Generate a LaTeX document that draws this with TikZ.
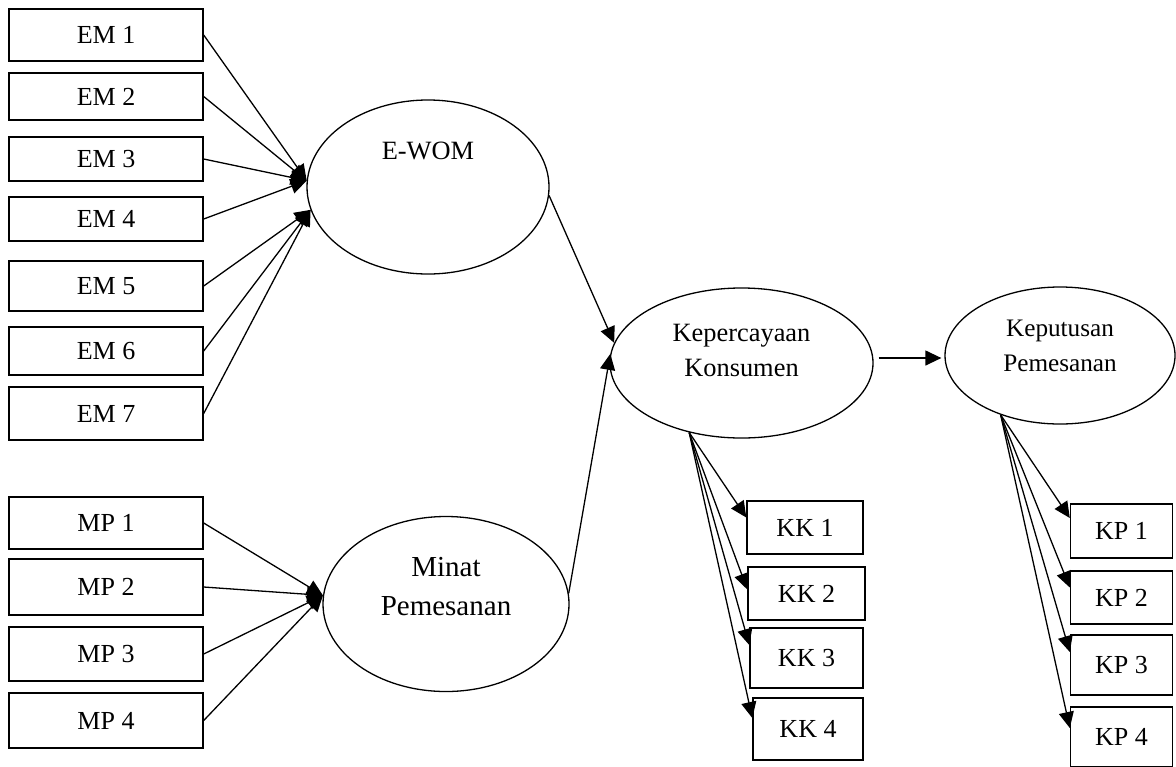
\documentclass[tikz,border=0pt]{standalone}
\usepackage{fontspec}
\setmainfont{Liberation Serif}
\usetikzlibrary{arrows.meta,shapes.geometric}

\tikzset{
  ind/.style={draw,rectangle,line width=.7pt,inner sep=0pt,font=\fontsize{13}{15}\selectfont},
  lat/.style={draw,ellipse,line width=.65pt,inner sep=0pt},
  lattxt/.style={align=center,inner sep=0pt,font=\fontsize{13.2}{17.5}\selectfont},
  pth/.style={line width=.65pt,-{Triangle[length=8pt,width=7.5pt]}}
}

\begin{document}
\begin{tikzpicture}[x=.5pt,y=-.5pt]
\useasboundingbox (0,0) rectangle (1176,766);
% latent variables
\node[lat,minimum width=121pt,minimum height=87pt] (ewom) at (428,187) {};
\node[lat,minimum width=123pt,minimum height=87.5pt] (mpn) at (446,604) {};
\node[lat,minimum width=131.5pt,minimum height=75pt] (kc) at (741.5,363) {};
\node[lat,minimum width=115pt,minimum height=68.5pt] (kp) at (1060,355.5) {};
\node[lattxt] (ewomtxt) at ([yshift=18pt]ewom.center) {E-WOM};
\node[lattxt,font=\fontsize{14.5}{19.5}\selectfont] (mpntxt) at ([yshift=8.5pt]mpn.center) {Minat\\Pemesanan};
\node[lattxt] (kctxt) at ([yshift=6.5pt]kc.center) {Kepercayaan\\Konsumen};
\node[lattxt,font=\fontsize{12.6}{17.5}\selectfont] (kptxt) at ([yshift=5pt]kp.center) {Keputusan\\Pemesanan};
% indicators
\foreach \i/\y/\h in {1/35/26,2/96.5/23.5,3/159/22,4/219/22,5/286/25,6/351/24,7/413.5/26.5}
  \node[ind,minimum width=97pt,minimum height=\h pt] (em\i) at (106,\y) {EM \i};
\foreach \i/\y/\h in {1/523/26,2/587/28,3/654/27,4/720.5/27.5}
  \node[ind,minimum width=97pt,minimum height=\h pt] (mp\i) at (106,\y) {MP \i};
\foreach \i/\x/\y/\w/\h in {1/805/527.5/58/26.5,2/806.5/593.5/58.5/26.5,3/806.5/658/56.5/30,4/808/729/55/31}
  \node[ind,minimum width=\w pt,minimum height=\h pt] (kk\i) at (\x,\y) {KK \i};
\foreach \i/\y/\h in {1/531/27,2/597.5/26.5,3/665/30,4/737/30}
  \node[ind,minimum width=51pt,minimum height=\h pt] (kp\i) at (1121.5,\y) {KP \i};
% paths
\foreach \i in {1,...,4}
  \draw[pth] (em\i.east) -- (ewom.177);
\foreach \i in {5,6,7}
  \draw[pth] (em\i.east) -- (ewom.191);
\foreach \i in {1,...,4}
  \draw[pth] (mp\i.east) -- (mpn.176);
\draw[pth] (ewom.-4) -- (kc.171);
\draw[pth] (mpn.5) -- (kc.176);
\draw[pth] ([xshift=2.5pt,yshift=2.5pt]kc.east) -- ([xshift=-1.5pt,yshift=-1.25pt]kp.west);
\foreach \i/\dy in {1/5,2/2,3/6.5,4/5.5}
  \draw[pth] (kc.-127) -- ([yshift=\dy pt]kk\i.west);
\foreach \i/\dy in {1/6.5,2/5,3/6.5,4/4.5}
  \draw[pth] (kp.-135) -- ([yshift=\dy pt]kp\i.west);
\end{tikzpicture}
\end{document}
